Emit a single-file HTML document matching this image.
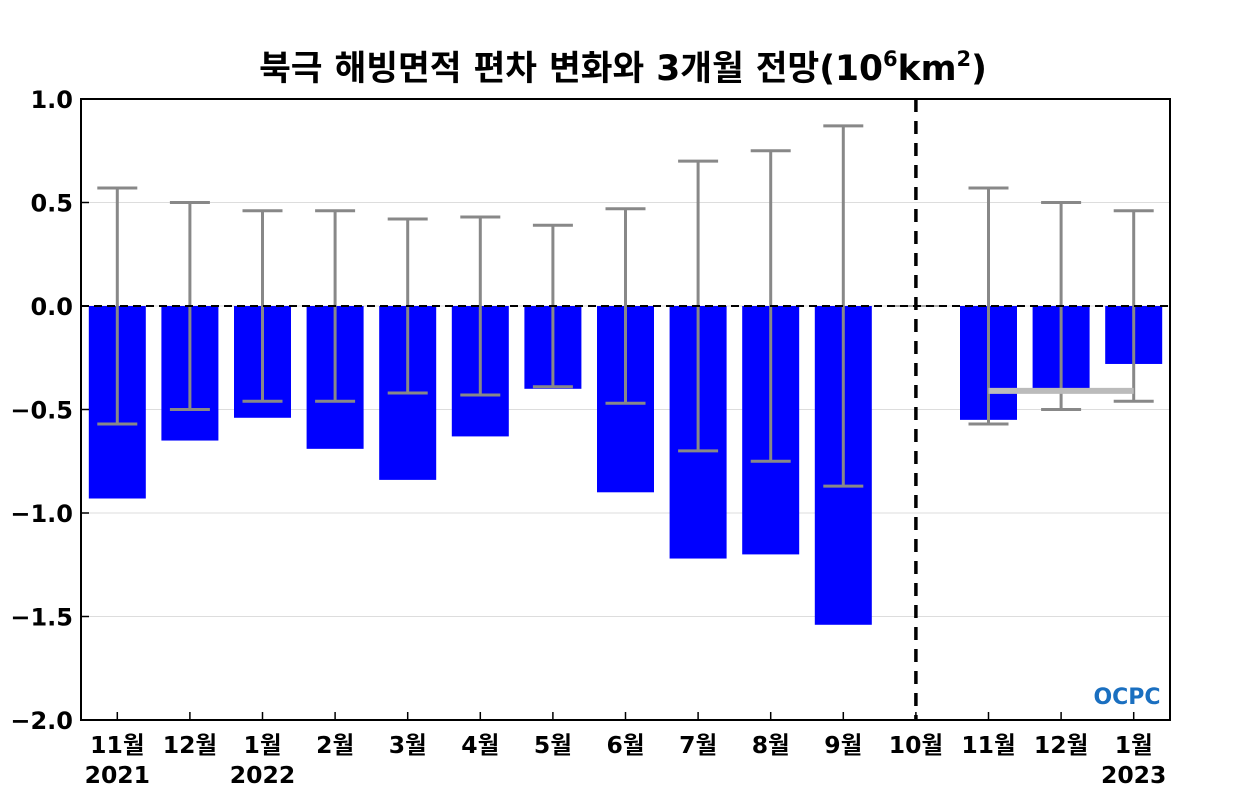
<!DOCTYPE html>
<html><head><meta charset="utf-8"><style>
body{margin:0;background:#fff;}
svg{display:block;font-family:"DejaVu Sans","Noto Sans CJK KR",sans-serif;}
</style></head><body>
<svg id="chart" width="1250" height="800">
<text x="623" y="80" text-anchor="middle" font-size="34.5" font-weight="bold">북극 해빙면적 편차 변화와 3개월 전망(10<tspan dy="-14" font-size="21">6</tspan><tspan dy="14">km</tspan><tspan dy="-14" font-size="21">2</tspan><tspan dy="14">)</tspan></text>
<g id="grid"></g>
<g id="bars"></g>
<g id="errs"></g>
<g id="axes"></g>
<text x="1127" y="704" text-anchor="middle" font-size="22" font-weight="bold" fill="#1a6fc0">OCPC</text>
</svg>
<script>
const categories=["11월","12월","1월","2월","3월","4월","5월","6월","7월","8월","9월","10월","11월","12월","1월"];
const years=["2021","","2022","","","","","","","","","","","","2023"];
const values=[-0.93,-0.65,-0.54,-0.69,-0.84,-0.63,-0.40,-0.90,-1.22,-1.20,-1.54,0,-0.55,-0.40,-0.28];
const errors=[0.57,0.50,0.46,0.46,0.42,0.43,0.39,0.47,0.70,0.75,0.87,null,0.57,0.50,0.46];
const yTicks=[1.0,0.5,0.0,-0.5,-1.0,-1.5,-2.0];
const climLine=-0.41;
const L=81,R=1170,T=99,B=720,ymin=-2,ymax=1;
const y=v=>T+(ymax-v)/(ymax-ymin)*(B-T);
const step=(R-L)/categories.length;
const x=i=>L+step*(i+0.5);
const NS="http://www.w3.org/2000/svg";
function mk(p,tag,a){const e=document.createElementNS(NS,tag);for(const k in a)e.setAttribute(k,a[k]);document.getElementById(p).appendChild(e);return e;}
yTicks.forEach(t=>{
 const g=mk('grid','line',{x1:L,x2:R,y1:y(t),y2:y(t),stroke:'#ddd','stroke-width':1});
 
 
 const tx=mk('axes','text',{x:73,y:y(t)+9,'text-anchor':'end','font-size':24,'font-weight':'bold'});
 tx.textContent=(t<0?'−':'')+Math.abs(t).toFixed(1);
 
 
});
values.forEach((v,i)=>{
 if(v!==0){
 const r=mk('bars','rect',{x:x(i)-28.5,width:57,y:Math.min(y(0),y(v)),height:Math.abs(y(v)-y(0)),fill:'#0000ff'});
 
 
 } else {
 const r=mk('bars','line',{x1:x(i)-28,x2:x(i)+28,y1:y(0),y2:y(0),stroke:'#aaa','stroke-width':2});
 
 
 }
 const e=errors[i];
 if(e!==null){
  const c='#888';
  mk('errs','line',{x1:x(i),x2:x(i),y1:y(e),y2:y(-e),stroke:c,'stroke-width':3});
  mk('errs','line',{x1:x(i)-20,x2:x(i)+20,y1:y(e),y2:y(e),stroke:c,'stroke-width':3});
  mk('errs','line',{x1:x(i)-20,x2:x(i)+20,y1:y(-e),y2:y(-e),stroke:c,'stroke-width':3});
 }
 const lb=mk('axes','text',{x:x(i),y:753,'text-anchor':'middle','font-size':23.5,'font-weight':'bold'});
 lb.textContent=categories[i];
 
 
 if(years[i]){const yl=mk('axes','text',{x:x(i),y:783,'text-anchor':'middle','font-size':23.5,'font-weight':'bold'});yl.textContent=years[i];
 
 }
 mk('axes','line',{x1:x(i),x2:x(i),y1:B,y2:B-8,stroke:'#000','stroke-width':1.5});
});
const cl=mk('errs','line',{x1:x(12),x2:x(14),y1:y(climLine),y2:y(climLine),stroke:'#bbb','stroke-width':6});


const z=mk('axes','line',{x1:L,x2:R,y1:y(0),y2:y(0),stroke:'#000','stroke-width':2,'stroke-dasharray':'8,5'});


const d=mk('axes','line',{x1:x(11),x2:x(11),y1:T,y2:B,stroke:'#000','stroke-width':3.5,'stroke-dasharray':'13,9'});


const f=mk('axes','rect',{x:L,y:T,width:R-L,height:B-T,fill:'none',stroke:'#000','stroke-width':2});


yTicks.forEach(t=>mk('axes','line',{x1:L,x2:L+8,y1:y(t),y2:y(t),stroke:'#000','stroke-width':1.5}));
</script>
</body></html>
